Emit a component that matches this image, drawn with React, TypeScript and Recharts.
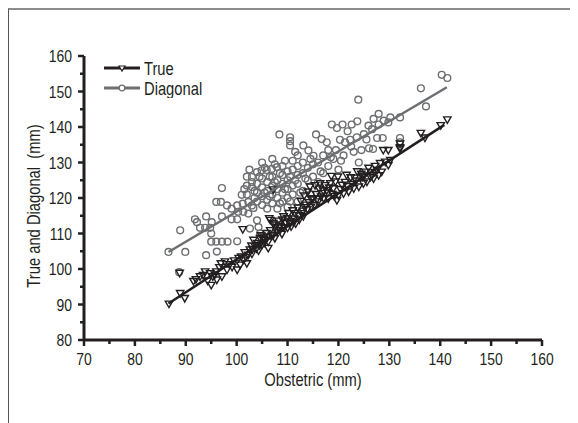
import { Legend, Scatter, ScatterChart, XAxis, YAxis } from "recharts"

const FONT = '"Liberation Sans", Arial, sans-serif'
const SQUEEZE = 0.82 // Liberation Sans squeezed to a narrow face
const INK = "#231f20"
const GREY = "#6d6e71"

const xTicks = [70, 75, 80, 85, 90, 95, 100, 105, 110, 115, 120, 125, 130, 135, 140, 145, 150, 155, 160]
const yTicks = [80, 85, 90, 95, 100, 105, 110, 115, 120, 125, 130, 135, 140, 145, 150, 155, 160]

// True (mm) vs obstetric (mm)
const truePoints = [
  [86.7, 90.1], [88.9, 93.1], [89.8, 91.7], [88.8, 98.8],
  [91.5, 96.5], [92.0, 97.0], [92.8, 97.8], [93.4, 98.2], [93.8, 99.2], [94.3, 96.6], [94.8, 98.7], [95.0, 95.4],
  [95.3, 97.8], [95.7, 98.3], [96.0, 99.2], [96.1, 96.9], [96.6, 100.4], [96.9, 101.5], [97.1, 97.8], [97.7, 102.0],
  [98.1, 99.7], [98.6, 101.2], [99.1, 100.5], [99.5, 102.3],
  [100.1, 99.7], [100.4, 103.0], [100.7, 101.1], [100.9, 103.4], [101.2, 111.1], [101.3, 102.5], [101.6, 104.6],
  [101.8, 103.2], [102.0, 101.5], [102.3, 103.9], [102.6, 105.4], [102.9, 106.5], [103.0, 104.2], [103.1, 105.5],
  [103.3, 108.1], [103.6, 106.3], [103.9, 105.7], [104.0, 107.2], [104.3, 105.1], [104.5, 106.6], [104.6, 108.6],
  [104.8, 109.4], [105.0, 106.8], [105.2, 108.3], [105.3, 109.0], [105.4, 107.2], [105.6, 108.1], [105.9, 110.0],
  [106.0, 108.9], [106.2, 107.6], [106.2, 105.8], [106.4, 114.2], [106.6, 113.7], [106.6, 110.8], [106.9, 109.3],
  [107.2, 112.8], [107.2, 109.5], [107.2, 122.3], [107.5, 108.6], [107.6, 111.6], [107.7, 112.4], [107.9, 110.4],
  [108.2, 113.5], [108.3, 111.6], [108.5, 110.8], [108.6, 112.0], [108.9, 109.8], [109.0, 113.8], [109.2, 114.7],
  [109.3, 111.6], [109.6, 112.9], [109.9, 114.2], [110.0, 111.5], [110.2, 115.6], [110.4, 112.8], [110.6, 113.4],
  [110.7, 111.9], [111.0, 116.4], [111.2, 113.0], [111.3, 114.1], [111.5, 115.6], [111.6, 112.7], [112.0, 117.2],
  [112.2, 115.0], [112.3, 113.8], [112.6, 119.1], [112.8, 115.6], [113.0, 116.3], [113.1, 114.8], [113.3, 120.6],
  [113.4, 117.3], [113.6, 118.0], [113.9, 116.8], [114.0, 121.7], [114.2, 118.7], [114.4, 123.1], [114.6, 117.4],
  [114.7, 119.6], [115.0, 119.8], [115.3, 117.9], [115.4, 123.5], [115.6, 121.0], [115.8, 119.6], [116.0, 118.9],
  [116.2, 122.5], [116.4, 124.0], [116.6, 120.3], [116.8, 121.3], [117.0, 122.0], [117.1, 119.8], [117.4, 123.5],
  [117.7, 122.1], [117.9, 121.4], [118.0, 119.8], [118.2, 122.8], [118.4, 124.0], [118.6, 126.1], [118.8, 121.0],
  [119.0, 122.6], [119.2, 120.4], [119.4, 124.5], [119.7, 119.3], [119.9, 125.9], [120.0, 120.7], [120.4, 122.4],
  [120.7, 123.6], [121.0, 121.2], [121.3, 124.4], [121.6, 126.4], [121.8, 123.2], [122.0, 121.7], [122.4, 125.7],
  [122.7, 123.8], [123.0, 122.6], [123.2, 125.6], [123.4, 124.8], [123.7, 127.4], [124.0, 123.1], [124.5, 126.7],
  [124.7, 125.9], [124.9, 124.0], [125.0, 126.2], [125.3, 127.3], [125.6, 124.5], [125.9, 128.4], [126.3, 125.8],
  [126.6, 126.3], [126.9, 125.4], [127.1, 127.2], [127.2, 128.9], [127.6, 127.8], [127.9, 126.3], [128.2, 129.7],
  [128.5, 127.3], [128.8, 133.4], [129.2, 130.1], [129.8, 133.4], [129.8, 129.2], [130.2, 130.6],
  [132.1, 135.2], [132.1, 133.8], [132.1, 134.2], [136.2, 138.2], [137.0, 136.9], [140.1, 140.4], [141.4, 142.0],
]

// Diagonal (mm) vs obstetric (mm)
const diagonalPoints = [
  [86.6, 104.8], [88.7, 99.1], [88.9, 110.9], [89.9, 104.8], [91.8, 114.0], [92.2, 113.2], [92.8, 111.6], [93.8, 111.6],
  [94.0, 114.8], [94.0, 103.9], [94.8, 111.6], [95.0, 110.0], [95.1, 113.2], [95.0, 107.7], [96.0, 107.7], [96.1, 104.9],
  [96.0, 118.9], [96.9, 118.9], [97.1, 122.8], [97.1, 114.8], [97.1, 107.7], [98.1, 117.9], [98.2, 107.7], [99.0, 117.0],
  [99.0, 114.0], [100.1, 117.9], [100.1, 114.0], [100.1, 107.8], [100.3, 116.1], [101.0, 120.9], [101.2, 118.4],
  [101.3, 116.1], [101.5, 122.5], [102.0, 121.0], [102.0, 123.5], [102.0, 126.0], [102.3, 118.9], [102.3, 115.6],
  [102.5, 128.0], [102.6, 111.4], [103.0, 117.9], [103.0, 125.9], [103.0, 124.5], [103.0, 123.1], [103.3, 117.2],
  [103.5, 120.0], [103.5, 122.0], [104.0, 127.3], [104.0, 119.0], [104.0, 121.5], [104.0, 124.0], [104.0, 113.7],
  [104.3, 111.8], [104.5, 126.0], [104.6, 110.0], [104.9, 127.8], [105.0, 118.0], [105.0, 120.5], [105.0, 123.0],
  [105.0, 125.5], [105.0, 130.0], [105.5, 121.5], [105.5, 128.5], [105.9, 127.9], [106.0, 117.0], [106.0, 119.5],
  [106.0, 122.0], [106.0, 124.5], [106.5, 120.5], [106.5, 126.0], [106.9, 128.2], [107.0, 118.5], [107.0, 121.0],
  [107.0, 123.5], [107.0, 126.0], [107.0, 131.0], [107.5, 124.5], [107.5, 129.5], [107.9, 128.7], [108.0, 117.0],
  [108.0, 120.0], [108.0, 122.5], [108.0, 125.0], [108.4, 137.9], [108.5, 118.5], [108.5, 127.0], [109.0, 119.0],
  [109.0, 121.5], [109.0, 124.0], [109.0, 126.5], [109.0, 129.0], [109.5, 122.5], [109.5, 130.5], [110.0, 117.5],
  [110.0, 120.0], [110.0, 122.5], [110.0, 125.0], [110.0, 127.5], [110.5, 119.0], [110.5, 126.0], [110.5, 137.1],
  [110.5, 136.0], [110.5, 134.8], [111.0, 121.0], [111.0, 123.5], [111.0, 128.0], [111.0, 130.5], [111.5, 125.0],
  [111.5, 133.0], [112.0, 119.0], [112.0, 124.0], [112.0, 126.5], [112.0, 129.0], [112.0, 132.0], [112.5, 121.5],
  [113.0, 122.0], [113.0, 127.0], [113.0, 130.0], [113.1, 134.8], [113.5, 125.5], [114.0, 125.0], [114.0, 128.5],
  [114.1, 133.4], [114.5, 121.0], [114.5, 131.0], [115.0, 126.0], [115.0, 129.5], [115.1, 131.9], [115.6, 137.9],
  [116.0, 124.5], [116.0, 130.0], [116.5, 127.5], [116.7, 136.6], [117.0, 127.0], [117.0, 132.0], [117.7, 135.7],
  [118.0, 129.0], [118.0, 133.5], [118.5, 131.5], [118.7, 140.7], [119.0, 131.0], [119.5, 133.5], [119.7, 139.7],
  [120.0, 128.0], [120.3, 136.4], [120.5, 130.5], [120.8, 140.7], [121.0, 132.0], [121.3, 135.7], [121.8, 138.8],
  [122.3, 136.4], [122.5, 134.5], [122.6, 140.7], [123.0, 133.0], [123.6, 137.1], [123.7, 141.6], [123.9, 147.7],
  [124.0, 130.0], [124.5, 133.5], [125.0, 138.0], [125.5, 136.5], [125.9, 140.4], [126.0, 134.0], [126.6, 139.4],
  [126.8, 133.8], [126.9, 142.3], [127.6, 136.9], [127.9, 143.7], [127.9, 140.7], [128.7, 136.9], [128.9, 141.8],
  [129.8, 141.3], [130.2, 142.7], [132.1, 142.7], [132.1, 136.9], [132.1, 135.7], [136.2, 150.9], [137.2, 145.8],
  [140.3, 154.7], [141.4, 153.8],
]

// fitted lines (end points)
const trueFit = [[86.6, 90.3], [140.8, 140.6]]
const diagonalFit = [[86.6, 104.8], [141.3, 151.2]]

const toRows = (pts: number[][]) => pts.map(([x, y]) => ({ x, y }))

const Triangle = ({ cx, cy }: any) => (
  <polygon
    points={`${cx - 3.7},${cy - 3} ${cx + 3.7},${cy - 3} ${cx},${cy + 3.5}`}
    fill="none"
    stroke={INK}
    strokeWidth={1.4}
  />
)

const Ring = ({ cx, cy }: any) => <circle cx={cx} cy={cy} r={3.4} fill="none" stroke={GREY} strokeWidth={1.4} />

const NoShape = () => <g />

// text drawn with a narrow look
function NarrowText({ x, y, anchor = "middle", size = 17, rotate = false, children }: any) {
  return (
    <g transform={`translate(${x},${y})${rotate ? " rotate(-90)" : ""} scale(${SQUEEZE},1)`}>
      <text x={0} y={0} textAnchor={anchor} fontSize={size} fontFamily={FONT} fill={INK}>
        {children}
      </text>
    </g>
  )
}

function XTick({ x, y, payload }: any) {
  const major = payload.value % 10 === 0
  return (
    <g>
      <line x1={x} x2={x} y1={y} y2={y + (major ? 6 : 4)} stroke={INK} strokeWidth={2.5} />
      {major && (
        <NarrowText x={x} y={y + 25}>
          {payload.value}
        </NarrowText>
      )}
    </g>
  )
}

function YTick({ x, y, payload }: any) {
  const major = payload.value % 10 === 0
  return (
    <g>
      <line x1={x - (major ? 6 : 4)} x2={x} y1={y} y2={y} stroke={INK} strokeWidth={2.5} />
      {major && (
        <NarrowText x={x - 12} y={y + 6} anchor="end">
          {payload.value}
        </NarrowText>
      )}
    </g>
  )
}

const legendRows = [
  { name: "True", color: INK, marker: "triangle" },
  { name: "Diagonal", color: GREY, marker: "circle" },
]

function ChartLegend() {
  return (
    <svg width={110} height={40} style={{ display: "block" }}>
      {legendRows.map((r, i) => {
        const cy = 10 + i * 20
        return (
          <g key={r.name}>
            <line x1={0} x2={36} y1={cy} y2={cy} stroke={r.color} strokeWidth={3} />
            {r.marker === "triangle" ? (
              <polygon
                points={`15,${cy - 2} 21,${cy - 2} 18,${cy + 3}`}
                fill="#fff"
                stroke={r.color}
                strokeWidth={1.2}
              />
            ) : (
              <circle cx={18} cy={cy} r={2.8} fill="#fff" stroke={r.color} strokeWidth={1.2} />
            )}
            <NarrowText x={40} y={cy + 6.5} anchor="start" size={18}>
              {r.name}
            </NarrowText>
          </g>
        )
      })}
    </svg>
  )
}

export default function App() {
  return (
    <div style={{ width: 569, height: 413, borderTop: "2px solid #8c8c8c", borderLeft: "1px solid #555" }}>
      <ScatterChart width={569} height={413} margin={{ top: 46, right: 36, bottom: 33, left: 15 }}>
        <XAxis
          type="number"
          dataKey="x"
          domain={[70, 160]}
          ticks={xTicks}
          interval={0}
          tickSize={0}
          tickMargin={0}
          tickLine={false}
          tick={<XTick />}
          axisLine={{ stroke: INK, strokeWidth: 3 }}
          height={50}
          label={({ viewBox }: any) => (
            <NarrowText x={viewBox.x + viewBox.width / 2} y={viewBox.y + 46} size={18}>
              Obstetric (mm)
            </NarrowText>
          )}
        />
        <YAxis
          type="number"
          dataKey="y"
          domain={[80, 160]}
          ticks={yTicks}
          interval={0}
          tickSize={0}
          tickMargin={0}
          tickLine={false}
          tick={<YTick />}
          axisLine={{ stroke: INK, strokeWidth: 3 }}
          width={60}
          label={({ viewBox }: any) => (
            <NarrowText x={30.5} y={viewBox.y + viewBox.height / 2 + 8} size={18} rotate>
              True and Diagonal{"\u00a0\u00a0"}(mm)
            </NarrowText>
          )}
        />
        <Legend
          layout="vertical"
          align="center"
          verticalAlign="middle"
          wrapperStyle={{ top: 48, left: 95, width: "auto" }}
          content={() => <ChartLegend />}
        />
        <Scatter name="Diagonal" data={toRows(diagonalPoints)} shape={<Ring />} isAnimationActive={false} />
        <Scatter name="True" data={toRows(truePoints)} shape={<Triangle />} isAnimationActive={false} />
        <Scatter
          data={toRows(diagonalFit)}
          line={{ stroke: GREY, strokeWidth: 2.5 }}
          shape={<NoShape />}
          legendType="none"
          isAnimationActive={false}
        />
        <Scatter
          data={toRows(trueFit)}
          line={{ stroke: INK, strokeWidth: 2.5 }}
          shape={<NoShape />}
          legendType="none"
          isAnimationActive={false}
        />
      </ScatterChart>
    </div>
  )
}
